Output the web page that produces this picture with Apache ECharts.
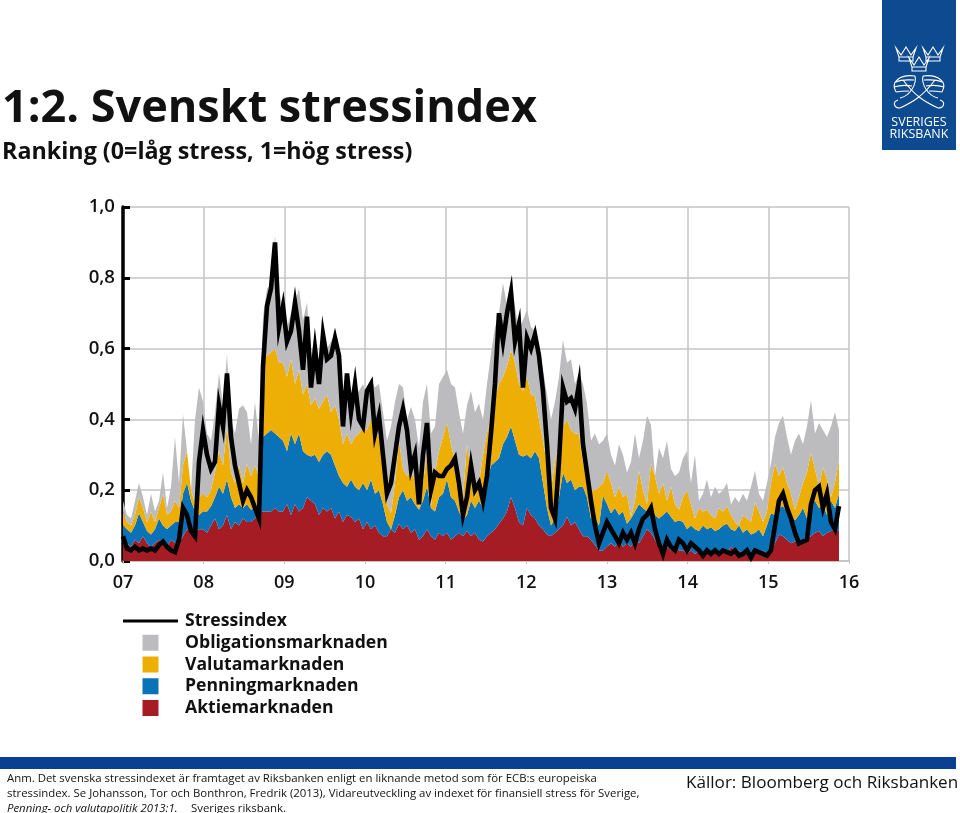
<!DOCTYPE html>
<html><head><meta charset="utf-8">
<style>html,body{margin:0;padding:0;background:#fff;overflow:hidden}#c{width:960px;height:813px}</style>
<script src="https://cdn.jsdelivr.net/npm/echarts@6/dist/echarts.min.js"></script>
</head><body><div id="c"></div>
<script>
const firstYear = 2007, sampleStepYears = 4 / 80.67;
const yTicks = [0, 0.2, 0.4, 0.6, 0.8, 1];
const xLabels = ['07','08','09','10','11','12','13','14','15','16'];
const names = {stress:'Stressindex', bond:'Obligationsmarknaden', fx:'Valutamarknaden', money:'Penningmarknaden', equity:'Aktiemarknaden'};

// Upper edge of each stacked band
const equityTop = [
.06,.05,.04,.06,.05,.07,.05,.04,.05,.06,
.05,.04,.06,.05,.05,.07,.09,.09,.08,.09,
.09,.08,.10,.12,.09,.10,.13,.09,.11,.10,
.12,.11,.11,.12,.135,.14,.14,.14,.15,.14,
.14,.16,.13,.16,.14,.15,.18,.17,.16,.13,
.15,.14,.15,.12,.14,.11,.13,.125,.11,.12,
.09,.11,.09,.10,.08,.07,.07,.09,.08,.105,
.09,.10,.08,.09,.06,.07,.09,.07,.06,.08,
.07,.08,.06,.07,.08,.07,.085,.07,.08,.06,
.055,.07,.08,.09,.105,.12,.14,.18,.15,.11,
.10,.15,.13,.12,.10,.09,.075,.07,.08,.09,
.10,.125,.10,.11,.09,.07,.07,.06,.045,.03,
.03,.04,.05,.04,.06,.04,.05,.04,.06,.05,
.07,.09,.08,.06,.04,.03,.04,.03,.04,.03,
.03,.02,.03,.02,.03,.02,.03,.02,.03,.03,
.03,.02,.04,.03,.03,.02,.03,.02,.03,.02,
.03,.02,.03,.05,.075,.07,.06,.05,.055,.05,
.06,.06,.07,.08,.085,.07,.08,.085,.085,.085];
const moneyTop = [
.10,.09,.08,.10,.135,.11,.085,.075,.09,.12,
.10,.09,.10,.11,.11,.19,.22,.17,.14,.13,
.14,.14,.155,.18,.21,.19,.23,.18,.15,.16,
.15,.16,.145,.15,.14,.35,.36,.37,.36,.35,
.34,.31,.36,.33,.36,.31,.30,.295,.30,.28,
.30,.31,.30,.27,.24,.22,.21,.23,.21,.20,
.22,.20,.23,.19,.20,.16,.11,.09,.13,.18,
.20,.17,.18,.16,.145,.17,.21,.15,.14,.18,
.19,.23,.18,.17,.14,.115,.13,.17,.15,.17,
.15,.22,.27,.28,.29,.33,.35,.38,.34,.30,
.295,.30,.29,.31,.29,.22,.15,.10,.12,.18,
.25,.22,.23,.20,.21,.21,.18,.12,.125,.10,
.185,.16,.135,.15,.13,.14,.105,.12,.14,.16,
.15,.14,.16,.13,.12,.13,.14,.125,.11,.115,
.11,.09,.10,.09,.085,.10,.09,.095,.085,.09,
.10,.105,.09,.085,.10,.08,.09,.075,.08,.09,
.07,.10,.135,.13,.15,.155,.14,.13,.115,.13,
.15,.12,.16,.17,.15,.16,.13,.17,.15,.19];
const fxTop = [
.14,.11,.10,.13,.18,.15,.11,.14,.11,.15,
.19,.13,.14,.17,.15,.27,.31,.20,.16,.18,
.19,.18,.20,.25,.31,.27,.38,.25,.22,.27,
.22,.275,.24,.27,.24,.58,.58,.59,.60,.56,
.56,.52,.57,.50,.54,.47,.50,.44,.46,.43,
.45,.47,.42,.44,.40,.33,.36,.33,.35,.36,
.38,.37,.40,.37,.35,.30,.16,.135,.22,.34,
.26,.24,.25,.23,.15,.22,.30,.155,.25,.31,
.35,.39,.33,.28,.22,.18,.33,.25,.18,.22,
.30,.36,.41,.46,.50,.52,.55,.595,.56,.50,
.48,.52,.47,.465,.40,.34,.27,.20,.28,.34,
.38,.40,.37,.36,.36,.28,.23,.20,.20,.21,
.22,.255,.22,.18,.21,.18,.19,.125,.17,.255,
.20,.16,.275,.24,.19,.22,.17,.21,.16,.145,
.18,.20,.16,.12,.15,.14,.145,.13,.12,.15,
.14,.155,.13,.11,.09,.13,.12,.11,.165,.14,
.11,.14,.22,.275,.24,.265,.22,.19,.145,.18,
.22,.25,.305,.26,.21,.265,.23,.18,.22,.285];
const bondTop = [
.17,.13,.12,.17,.22,.18,.13,.19,.14,.17,
.25,.15,.21,.35,.22,.415,.28,.20,.40,.49,
.45,.36,.34,.42,.53,.44,.585,.40,.36,.43,
.44,.42,.33,.45,.34,.69,.77,.78,.92,.76,
.72,.66,.70,.73,.77,.68,.73,.58,.64,.56,
.66,.60,.62,.64,.585,.48,.50,.47,.47,.48,
.50,.46,.51,.49,.50,.42,.34,.38,.45,.50,
.49,.40,.435,.40,.32,.45,.50,.36,.38,.50,
.52,.54,.50,.49,.42,.36,.44,.48,.42,.445,
.40,.50,.585,.66,.70,.785,.72,.80,.72,.65,
.68,.71,.66,.65,.60,.54,.47,.40,.45,.52,
.625,.56,.57,.50,.53,.50,.445,.34,.36,.33,
.34,.36,.30,.27,.33,.30,.25,.28,.36,.29,
.34,.41,.385,.24,.32,.29,.34,.26,.24,.25,
.29,.31,.22,.30,.17,.19,.23,.18,.21,.19,
.20,.22,.16,.18,.155,.19,.17,.21,.255,.19,
.17,.22,.275,.35,.39,.41,.35,.30,.34,.36,
.33,.38,.455,.36,.39,.37,.35,.38,.42,.37];
const stressIndex = [
.07,.035,.03,.04,.03,.035,.03,.035,.03,.045,
.055,.04,.03,.025,.06,.15,.13,.085,.07,.28,
.37,.30,.26,.28,.44,.38,.53,.35,.27,.22,
.17,.20,.18,.15,.12,.55,.72,.77,.90,.66,
.72,.62,.65,.73,.65,.54,.69,.49,.60,.50,
.64,.57,.58,.63,.58,.38,.53,.42,.50,.40,
.38,.48,.50,.36,.41,.30,.19,.22,.30,.38,
.43,.37,.26,.30,.16,.30,.39,.20,.25,.24,
.24,.26,.27,.29,.22,.13,.18,.27,.20,.22,
.17,.24,.36,.50,.70,.62,.70,.76,.62,.67,
.49,.63,.60,.64,.58,.48,.33,.15,.12,.28,
.49,.45,.46,.43,.50,.33,.25,.17,.10,.05,
.08,.11,.09,.07,.05,.08,.06,.08,.05,.09,
.12,.13,.15,.09,.05,.02,.06,.04,.03,.06,
.05,.03,.05,.04,.03,.015,.03,.02,.03,.02,
.03,.025,.02,.03,.015,.02,.03,.01,.03,.025,
.02,.015,.03,.10,.17,.19,.15,.12,.08,.05,
.055,.06,.16,.20,.21,.15,.19,.11,.09,.155];

const years = stressIndex.map((_, i) => firstYear + i * sampleStepYears);
// value first, year second: with two value axes ECharts stacks the first numeric dimension
const band = (top, below) => top.map((v, i) => [below ? Math.max(0, +(v - below[i]).toFixed(3)) : v, years[i]]);
const area = (name, color, data) => ({
  name, type:'line', stack:'bands', symbol:'none', data, color, encode:{x:1, y:0},
  lineStyle:{width:0}, areaStyle:{color, opacity:1}, itemStyle:{color}, z:2
});

const FONT = '"Open Sans"';
const ink = '#111';
const txt = (x, y, text, size, weight, extra) => ({type:'text', x, y, silent:true,
  style:{text, font:`${extra||''} ${weight} ${size}px ${FONT}`, fill:ink, textVerticalAlign:'middle'}});
const white = {fill:'none', stroke:'#fff', lineWidth:1.1};
const crown = (x, y) => ({type:'polyline', x, y, silent:true,
  shape:{points:[[-7,2],[7,2],[7,6],[-7,6],[-7,2],[-10,-7],[-5,0],[0,-8],[5,0],[10,-7],[7,2]]}, style:white});
const curve = (x1,y1,cx1,cy1,cx2,cy2,x2,y2) => ({type:'bezierCurve', silent:true,
  shape:{x1,y1,cpx1:cx1,cpy1:cy1,cpx2:cx2,cpy2:cy2,x2,y2}, style:white});

const chart = echarts.init(document.getElementById('c'), null, {renderer:'canvas'});
chart.setOption({
  animation:false,
  backgroundColor:'#fff',
  textStyle:{fontFamily:FONT},
  grid:{left:123, right:111, top:207, bottom:252, containLabel:false},
  xAxis:{type:'value', min:2007, max:2016, interval:1,
    axisLine:{show:true, onZero:false, lineStyle:{color:'#c4c4c4', width:1.5}},
    axisTick:{show:true, length:3, lineStyle:{color:'#c4c4c4', width:1}},
    splitLine:{show:true, lineStyle:{color:'#c4c4c4', width:1.5}},
    axisLabel:{margin:13, fontSize:18, fontWeight:600, color:ink, showMinLabel:true, showMaxLabel:true,
      formatter:v => xLabels[Math.round(v - firstYear)]}},
  yAxis:{type:'value', min:0, max:1, interval:0.2,
    axisLine:{show:true, lineStyle:{color:'#000', width:3.5}},
    axisTick:{show:true, inside:true, length:7, lineStyle:{color:'#000', width:3}},
    splitLine:{show:true, lineStyle:{color:'#c4c4c4', width:1.5}},
    axisLabel:{margin:8, fontSize:18.6, fontWeight:600, color:ink,
      formatter:v => yTicks.includes(+v.toFixed(1)) ? v.toFixed(1).replace('.', ',') : ''}},
  legend:{orient:'vertical', left:118, top:607, itemWidth:55, itemHeight:16, itemGap:3.75,
    selectedMode:false, textStyle:{fontSize:17.6, fontWeight:700, color:ink, fontFamily:FONT, padding:[0,0,0,2]},
    data:[
      {name:names.stress, icon:'path://M0 0H55V3H0Z'},
      {name:names.bond, icon:'path://M0 0H16V16H0Z'},
      {name:names.fx, icon:'path://M0 0H16V16H0Z'},
      {name:names.money, icon:'path://M0 0H16V16H0Z'},
      {name:names.equity, icon:'path://M0 0H16V16H0Z'}]},
  series:[
    area(names.equity, '#a51c24', band(equityTop)),
    area(names.money, '#0a73b8', band(moneyTop, equityTop)),
    area(names.fx, '#edae05', band(fxTop, moneyTop)),
    area(names.bond, '#bcbcbe', band(bondTop, fxTop)),
    {name:names.stress, type:'line', symbol:'none', color:'#000', itemStyle:{color:'#000'},
     lineStyle:{color:'#000', width:4.6, join:'miter'}, z:5,
     data:stressIndex.map((v, i) => [years[i], v])}
  ],
  graphic:{elements:[
    txt(2, 109, '1:2. Svenskt stressindex', 45, 700),
    txt(2, 152, 'Ranking (0=låg stress, 1=hög stress)', 23.3, 700),
    {type:'rect', silent:true, shape:{x:0, y:757, width:956, height:12}, style:{fill:'#0b3f94'}},
    txt(7, 779, 'Anm. Det svenska stressindexet är framtaget av Riksbanken enligt en liknande metod som för ECB:s europeiska', 11.4, 400),
    txt(7, 794, 'stressindex. Se Johansson, Tor och Bonthron, Fredrik (2013), Vidareutveckling av indexet för finansiell stress för Sverige,', 11.4, 400),
    txt(7, 809, 'Penning- och valutapolitik 2013:1.', 11.4, 400, 'italic'),
    txt(191, 809, 'Sveriges riksbank.', 11.4, 400),
    txt(686, 783, 'Källor: Bloomberg och Riksbanken', 17.1, 400),
    {type:'rect', silent:true, shape:{x:882, y:0, width:74, height:150}, style:{fill:'#0d4a8f'}},
    crown(906, 55), crown(933, 55), crown(919, 65),
    curve(896,92, 890,82, 900,74, 915,76), curve(915,76, 917,84, 910,96, 900,98), curve(896,82, 902,79, 908,80, 914,80), curve(894,87, 900,85, 906,85, 912,86), curve(896,92, 901,91, 905,91, 909,91),
    curve(942,92, 948,82, 938,74, 923,76), curve(923,76, 921,84, 928,96, 938,98), curve(942,82, 936,79, 930,80, 924,80), curve(944,87, 938,85, 932,85, 926,86), curve(942,92, 937,91, 933,91, 929,91),
    curve(903,80, 915,96, 925,102, 938,108), curve(935,80, 923,96, 913,102, 900,108),
    curve(900,108, 894,108, 892,102, 898,100), curve(938,108, 944,108, 946,102, 940,100),
    {type:'text', x:919, y:122, silent:true, style:{text:'SVERIGES', font:`400 12.5px ${FONT}`, fill:'#fff', textAlign:'center', textVerticalAlign:'middle'}},
    {type:'text', x:919, y:134, silent:true, style:{text:'RIKSBANK', font:`400 12.5px ${FONT}`, fill:'#fff', textAlign:'center', textVerticalAlign:'middle'}}
  ]}
});
</script></body></html>
